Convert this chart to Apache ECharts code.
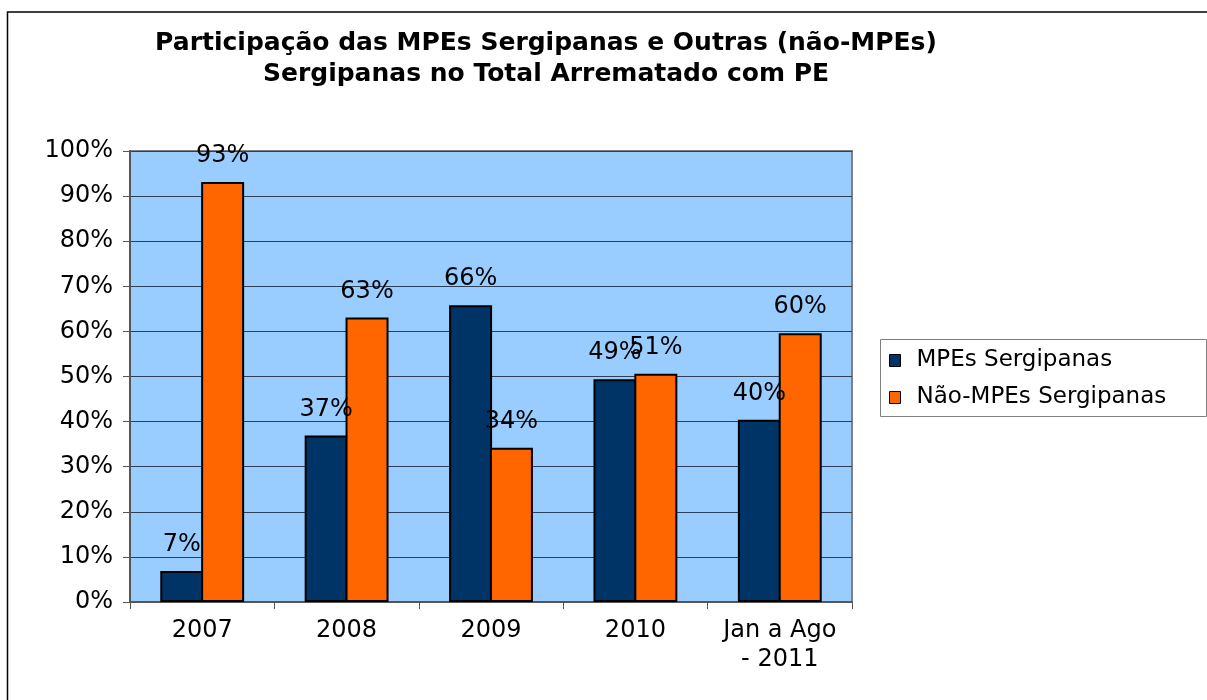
<!DOCTYPE html>
<html>
<head>
<meta charset="utf-8">
<script src="https://cdn.jsdelivr.net/npm/echarts@6/dist/echarts.min.js"></script>
<style>html,body{margin:0;padding:0;background:#fff}#c{width:1207px;height:700px}</style>
</head>
<body>
<div id="c"></div>
<script>
const titleText = 'Participação das MPEs Sergipanas e Outras (não-MPEs)\nSergipanas no Total Arrematado com PE';
const categories = ['2007', '2008', '2009', '2010', 'Jan a Ago\n- 2011'];
const seriesNames = ['MPEs Sergipanas', 'Não-MPEs Sergipanas'];
const mpeValues = [6.9, 36.9, 65.8, 49.4, 40.4];
const naoMpeValues = [93.1, 63.1, 34.2, 50.6, 59.6];
const yTicks = [0, 10, 20, 30, 40, 50, 60, 70, 80, 90, 100];

const FONT = '"DejaVu Sans", "Liberation Sans", Arial, sans-serif';
const chart = echarts.init(document.getElementById('c'));
const labelCfg = {
  show: true, position: 'top', distance: 14,
  formatter: p => Math.round(p.value) + '%',
  color: '#000', fontFamily: FONT, fontSize: 24
};
chart.setOption({
  animation: false,
  backgroundColor: '#fff',
  title: {
    text: titleText,
    left: 546, top: 28, textAlign: 'center',
    padding: 0,
    textStyle: { fontFamily: FONT, fontWeight: 'bold', fontSize: 25, lineHeight: 31, color: '#000' }
  },
  graphic: [
    { type: 'rect', shape: { x: 7.5, y: 12, width: 1260, height: 760 }, style: { fill: 'none', stroke: '#000', lineWidth: 1.5 }, silent: true },
    { type: 'rect', shape: { x: 880.5, y: 339.5, width: 326, height: 77 }, style: { fill: '#fff', stroke: '#808080', lineWidth: 1 }, z: 0, silent: true }
  ],
  legend: {
    orient: 'vertical', left: 880, top: 341,
    padding: [7, 10, 7, 9],
    itemWidth: 11, itemHeight: 12, itemGap: 12,
    icon: 'rect',
    itemStyle: { borderColor: '#000', borderWidth: 1 },
    textStyle: { fontFamily: FONT, fontSize: 23, color: '#000', lineHeight: 25, padding: [0, 0, 0, 11] },
    data: seriesNames
  },
  grid: {
    left: 130, right: 355, top: 151, bottom: 98,
    show: true, backgroundColor: '#99ccff', borderColor: '#808080', borderWidth: 2
  },
  xAxis: {
    type: 'category', data: categories,
    axisLine: { lineStyle: { color: '#555', width: 2 } },
    axisTick: { show: true, length: 7, lineStyle: { color: '#555', width: 1 } },
    axisLabel: { color: '#000', fontFamily: FONT, fontSize: 24, lineHeight: 29, margin: 14, interval: 0 }
  },
  yAxis: {
    type: 'value', min: 0, max: 100, interval: 10,
    axisLine: { show: true, lineStyle: { color: '#555', width: 2 } },
    axisTick: { show: true, length: 7, lineStyle: { color: '#555', width: 1 } },
    axisLabel: { color: '#000', fontFamily: FONT, fontSize: 24, margin: 17,
      formatter: v => yTicks.includes(v) ? v + '%' : '' },
    splitLine: { lineStyle: { color: '#2f3f55', width: 1 } }
  },
  series: [
    { name: seriesNames[0], type: 'bar', data: mpeValues, barWidth: 43, barGap: '-5%',
      itemStyle: { color: '#003366', borderColor: '#000', borderWidth: 2 }, label: labelCfg },
    { name: seriesNames[1], type: 'bar', data: naoMpeValues, barWidth: 43, barGap: '-5%',
      itemStyle: { color: '#ff6600', borderColor: '#000', borderWidth: 2 }, label: labelCfg }
  ]
});
</script>
</body>
</html>
